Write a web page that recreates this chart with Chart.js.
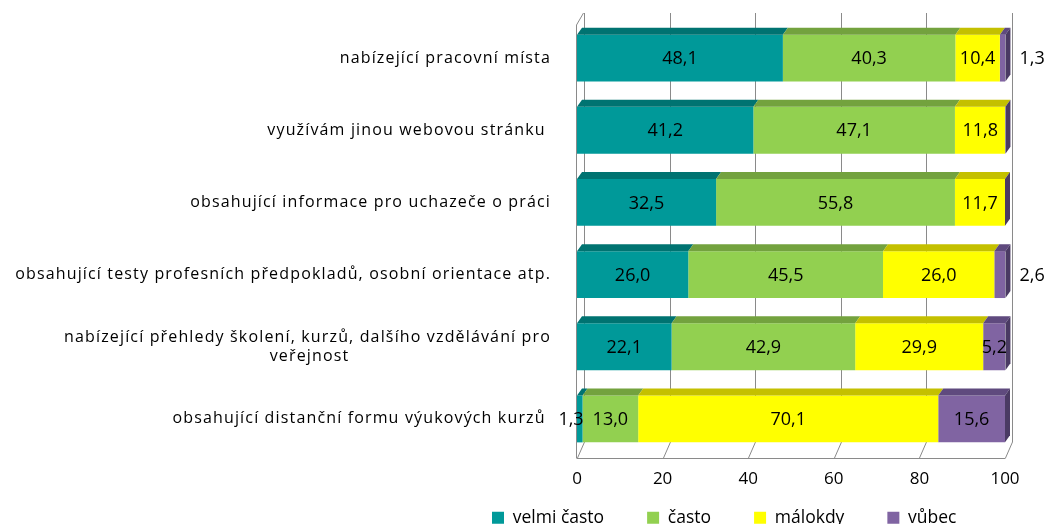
<!DOCTYPE html>
<html>
<head>
<meta charset="utf-8">
<script src="https://cdn.jsdelivr.net/npm/chart.js@4/dist/chart.umd.min.js"></script>
<style>
  html, body { margin: 0; padding: 0; background: #fff; }
  #wrap { width: 1050px; height: 524px; overflow: hidden; }
</style>
</head>
<body>
<div id="wrap"><canvas id="myChart" width="1050" height="524"></canvas></div>
<script>
// categories (top to bottom)
const categories = [
    'nabízející pracovní místa',
    'využívám jinou webovou stránku ',
    'obsahující informace pro uchazeče o práci',
    'obsahující testy profesních předpokladů, osobní orientace atp.',
    ['nabízející přehledy školení, kurzů, dalšího vzdělávání pro', 'veřejnost'],
    'obsahující distanční formu výukových kurzů '
];

// series values (%)
const velmiCasto = [48.1, 41.2, 32.5, 26.0, 22.1, 1.3];
const casto      = [40.3, 47.1, 55.8, 45.5, 42.9, 13.0];
const malokdy    = [10.4, 11.8, 11.7, 26.0, 29.9, 70.1];
const vubec      = [1.3, 0, 0, 2.6, 5.2, 15.6];

const seriesNames = ['velmi často', 'často', 'málokdy', 'vůbec'];
const xTicks = [0, 20, 40, 60, 80, 100];

// colours: front face / top face
const frontColors = ['#009999', '#92D050', '#FFFF00', '#8064A2'];
const topColors   = ['#007371', '#73a23e', '#c4c000', '#5f4a7e'];
const sideColor = '#4a3a63';
const gridColor = '#8a8a8a';

const fontName = '"Open Sans", "Liberation Sans", sans-serif';
const catFont = '16px ' + fontName;
const catSpacing = '1.15px';

// centre the 2nd line of the wrapped label under the 1st (labels are right aligned)
function centreSecondLine(lines) {
    const m = document.createElement('canvas').getContext('2d');
    m.font = catFont;
    m.letterSpacing = catSpacing;
    const w1 = m.measureText(lines[0]).width;
    const w2 = m.measureText(lines[1]).width;
    const sp = m.measureText('\u00A0').width;
    const n = Math.max(0, Math.round((w1 - w2) / 2 / sp));
    return [lines[0], lines[1] + '\u00A0'.repeat(n)];
}
const yLabels = categories.map(c => Array.isArray(c) ? centreSecondLine(c) : c);

// 3D-ish walls and gridlines, placed from the x scale
const walls = {
    id: 'walls',
    beforeDatasetsDraw(chart) {
        const c = chart.ctx;
        const xs = chart.scales.x;
        const a = chart.chartArea;
        const dx = 7;
        const backTop = a.top - 9, backBot = a.bottom - 13;
        const frontTop = a.top + 3, floor = a.bottom + 3;
        c.save();
        c.strokeStyle = gridColor;
        c.lineWidth = 1;
        c.beginPath();
        xTicks.forEach((v) => {
            const x = Math.round(xs.getPixelForValue(v)) + 0.5;
            c.moveTo(x + dx, backTop);
            c.lineTo(x + dx, backBot);
            c.lineTo(x, floor);
        });
        const x0 = Math.round(xs.getPixelForValue(0)) - 0.5;
        const x1 = Math.round(xs.getPixelForValue(100)) + 0.5;
        c.moveTo(x0, floor);
        c.lineTo(x0, frontTop);
        c.lineTo(x0 + dx, backTop);
        c.moveTo(x0, floor + 0.5);
        c.lineTo(x1, floor + 0.5);
        c.stroke();
        c.restore();
    }
};

// fake 3D: top face for every segment, side face at end of each row
const bar3d = {
    id: 'bar3d',
    afterDatasetsDraw(chart) {
        const c = chart.ctx;
        const dx = 5, dy = 7;
        const metas = chart.data.datasets.map((d, i) => chart.getDatasetMeta(i));
        metas.forEach((meta, di) => {
            meta.data.forEach((el) => {
                const top = el.y - el.height / 2;
                const l = Math.min(el.base, el.x), r = Math.max(el.base, el.x);
                if (r - l < 0.1) return;
                c.save();
                c.fillStyle = topColors[di];
                c.beginPath();
                c.moveTo(l, top);
                c.lineTo(l + dx, top - dy);
                c.lineTo(r + dx, top - dy);
                c.lineTo(r, top);
                c.closePath();
                c.fill();
                c.restore();
            });
        });
        const last = metas[metas.length - 1];
        last.data.forEach((el) => {
            const top = el.y - el.height / 2, bot = el.y + el.height / 2;
            c.save();
            c.fillStyle = sideColor;
            c.beginPath();
            c.moveTo(el.x, top);
            c.lineTo(el.x + dx, top - dy);
            c.lineTo(el.x + dx, bot - dy);
            c.lineTo(el.x, bot);
            c.closePath();
            c.fill();
            c.restore();
        });
    }
};

// value labels
const valueLabels = {
    id: 'valueLabels',
    afterDatasetsDraw(chart) {
        const c = chart.ctx;
        c.save();
        c.letterSpacing = '0px';
        c.font = '18px ' + fontName;
        c.fillStyle = '#000';
        c.textBaseline = 'middle';
        const n = chart.data.datasets.length;
        chart.data.datasets.forEach((ds, di) => {
            const meta = chart.getDatasetMeta(di);
            meta.data.forEach((el, i) => {
                const v = ds.data[i];
                if (!v) return;
                const txt = v.toFixed(1).replace('.', ',');
                if (v < 3 && di === n - 1) {
                    c.textAlign = 'left';
                    c.fillText(txt, el.x + 14, el.y + 1);
                } else if (v < 3 && di === 0) {
                    c.textAlign = 'center';
                    c.fillText(txt, el.base - 6, el.y + 1);
                } else {
                    c.textAlign = 'center';
                    c.fillText(txt, (el.x + el.base) / 2, el.y + 1);
                }
            });
        });
        c.restore();
    }
};

// legend: compact height, fixed place at the bottom; y labels get letter spacing
const tweaks = {
    id: 'tweaks',
    beforeLayout(chart) {
        const lg = chart.legend;
        if (lg && !lg._patched) {
            const fit = lg.fit;
            lg.fit = function () { fit.call(this); this.height = 20; };
            lg._patched = true;
        }
    },
    afterLayout(chart) {
        const lg = chart.legend;
        const pad = lg.options.labels.padding;
        lg.left = 492 - pad;
        lg.right = 1050;
        lg.top = 518 - pad - 9;
        lg.bottom = 560;
        lg.width = lg.right - lg.left;
        lg.height = lg.bottom - lg.top;
    },
    beforeDraw(chart) { chart.ctx.letterSpacing = '0px'; },
    afterDatasetsDraw(chart) { chart.ctx.letterSpacing = catSpacing; }
};

const datasets = [velmiCasto, casto, malokdy, vubec].map((vals, i) => ({
    label: seriesNames[i],
    data: vals,
    backgroundColor: frontColors[i],
    borderWidth: 0,
    barPercentage: 0.65,
    categoryPercentage: 1.0
}));

const config = {
    type: 'bar',
    data: { labels: yLabels, datasets: datasets },
    options: {
        indexAxis: 'y',
        responsive: false,
        animation: false,
        layout: { padding: { top: 22, right: 45, left: 0, bottom: 0 } },
        scales: {
            x: {
                stacked: true,
                min: 0,
                max: 100,
                afterBuildTicks: (s) => { s.ticks = xTicks.map(v => ({ value: v })); },
                afterFit: (s) => { s.height = 49; s.paddingLeft = 0; s.paddingRight = 0; },
                grid: { display: false },
                border: { display: false },
                ticks: { color: '#000', padding: 6, font: { family: fontName, size: 17 } }
            },
            y: {
                stacked: true,
                afterFit: (s) => { s.width = 577; s.paddingTop = 0; s.paddingBottom = 0; },
                grid: { display: false },
                border: { display: false },
                ticks: { color: '#000', padding: 18, z: 1, font: { family: fontName, size: 16 } }
            }
        },
        plugins: {
            legend: {
                position: 'bottom',
                align: 'start',
                labels: {
                    color: '#000',
                    boxWidth: 12,
                    boxHeight: 12,
                    padding: 43,
                    font: { family: fontName, size: 17.5 }
                }
            },
            tooltip: { enabled: false }
        }
    },
    plugins: [walls, bar3d, valueLabels, tweaks]
};

const chart = new Chart(document.getElementById('myChart'), config);
</script>
</body>
</html>
